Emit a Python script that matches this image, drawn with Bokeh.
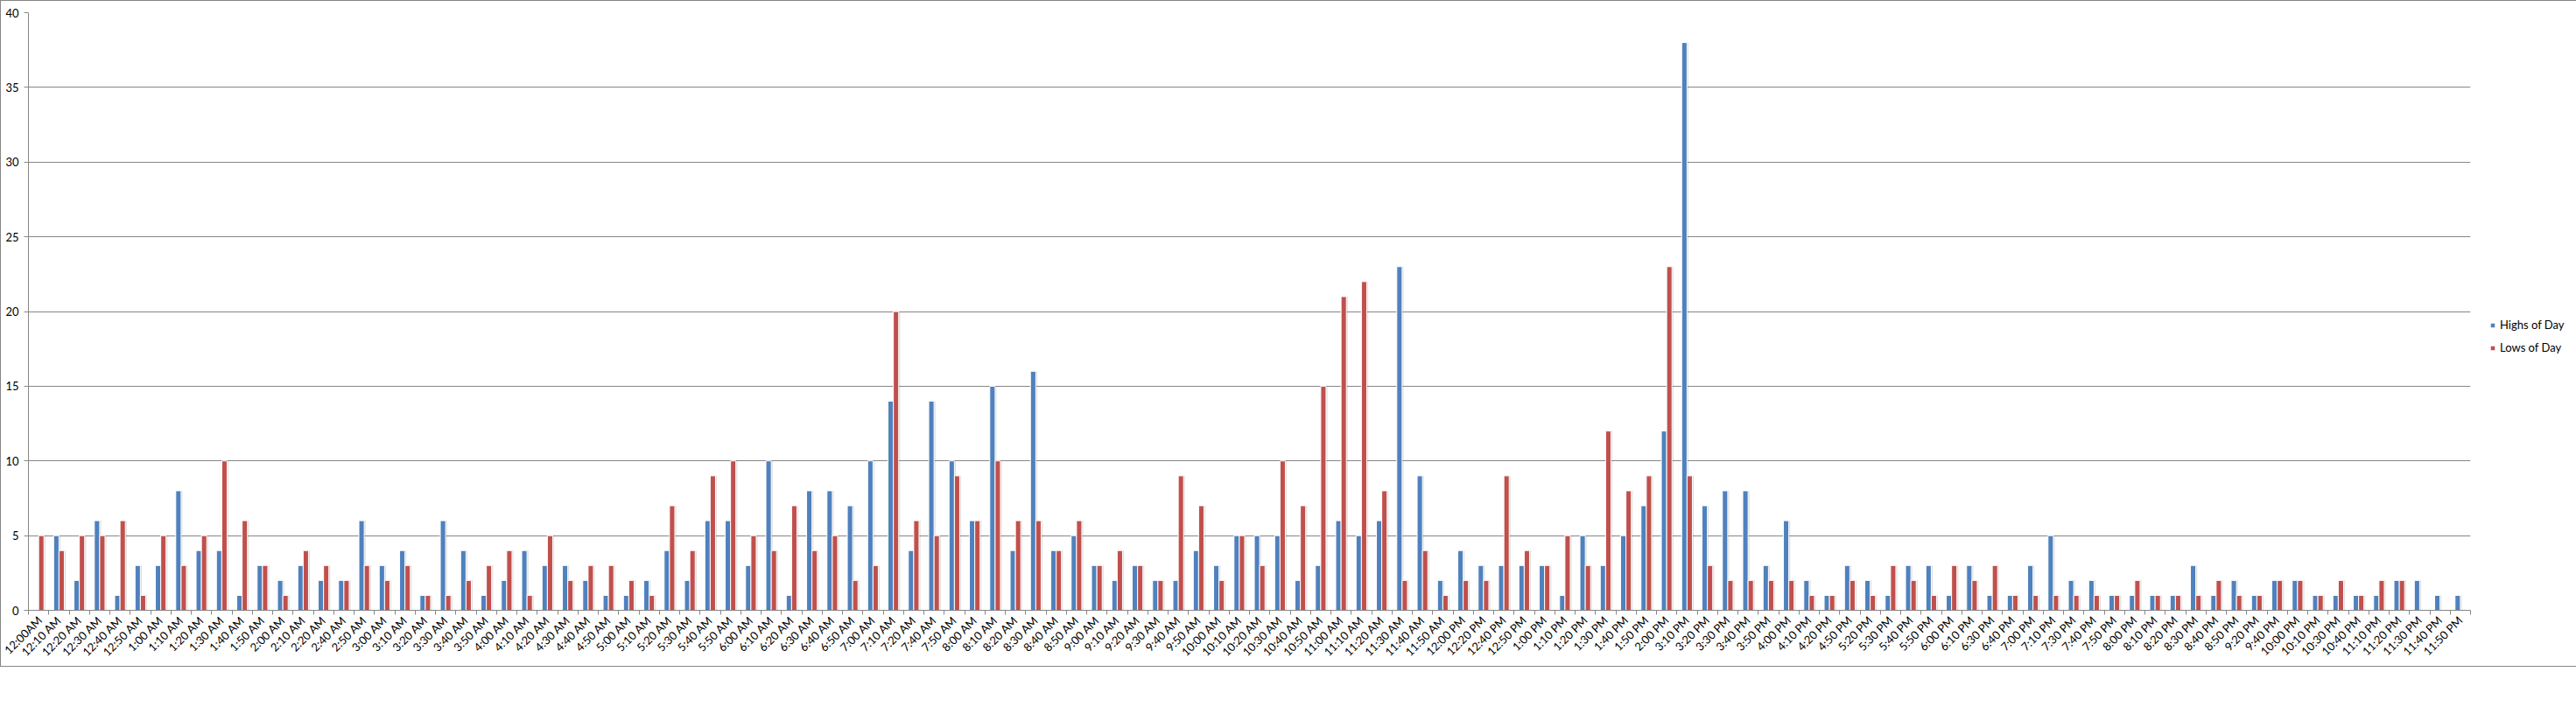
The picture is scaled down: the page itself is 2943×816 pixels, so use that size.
from bokeh.plotting import figure
from bokeh.models import ColumnDataSource, Range1d, FixedTicker, Legend, LegendItem
from bokeh.transform import dodge
from bokeh.embed import file_html
from bokeh.resources import INLINE
import math

labels = ["12:00AM", "12:10 AM", "12:20 AM", "12:30 AM", "12:40 AM", "12:50 AM", "1:00 AM", "1:10 AM",
          "1:20 AM", "1:30 AM", "1:40 AM", "1:50 AM", "2:00 AM", "2:10 AM", "2:20 AM", "2:40 AM",
          "2:50 AM", "3:00 AM", "3:10 AM", "3:20 AM", "3:30 AM", "3:40 AM", "3:50 AM", "4:00 AM",
          "4:10 AM", "4:20 AM", "4:30 AM", "4:40 AM", "4:50 AM", "5:00 AM", "5:10 AM", "5:20 AM",
          "5:30 AM", "5:40 AM", "5:50 AM", "6:00 AM", "6:10 AM", "6:20 AM", "6:30 AM", "6:40 AM",
          "6:50 AM", "7:00 AM", "7:10 AM", "7:20 AM", "7:40 AM", "7:50 AM", "8:00 AM", "8:10 AM",
          "8:20 AM", "8:30 AM", "8:40 AM", "8:50 AM", "9:00 AM", "9:10 AM", "9:20 AM", "9:30 AM",
          "9:40 AM", "9:50 AM", "10:00 AM", "10:10 AM", "10:20 AM", "10:30 AM", "10:40 AM", "10:50 AM",
          "11:00 AM", "11:10 AM", "11:20 AM", "11:30 AM", "11:40 AM", "11:50 AM", "12:00 PM", "12:20 PM",
          "12:40 PM", "12:50 PM", "1:00 PM", "1:10 PM", "1:20 PM", "1:30 PM", "1:40 PM", "1:50 PM",
          "2:00 PM", "3:10 PM", "3:20 PM", "3:30 PM", "3:40 PM", "3:50 PM", "4:00 PM", "4:10 PM",
          "4:20 PM", "4:50 PM", "5:20 PM", "5:30 PM", "5:40 PM", "5:50 PM", "6:00 PM", "6:10 PM",
          "6:30 PM", "6:40 PM", "7:00 PM", "7:10 PM", "7:30 PM", "7:40 PM", "7:50 PM", "8:00 PM",
          "8:10 PM", "8:20 PM", "8:30 PM", "8:40 PM", "8:50 PM", "9:20 PM", "9:40 PM", "10:00 PM",
          "10:10 PM", "10:30 PM", "10:40 PM", "11:10 PM", "11:20 PM", "11:30 PM", "11:40 PM", "11:50 PM"]

highs = [0, 5, 2, 6, 1, 3, 3, 8, 4, 4, 1, 3, 2, 3, 2, 2,
         6, 3, 4, 1, 6, 4, 1, 2, 4, 3, 3, 2, 1, 1, 2, 4,
         2, 6, 6, 3, 10, 1, 8, 8, 7, 10, 14, 4, 14, 10, 6, 15,
         4, 16, 4, 5, 3, 2, 3, 2, 2, 4, 3, 5, 5, 5, 2, 3,
         6, 5, 6, 23, 9, 2, 4, 3, 3, 3, 3, 1, 5, 3, 5, 7,
         12, 38, 7, 8, 8, 3, 6, 2, 1, 3, 2, 1, 3, 3, 1, 3,
         1, 1, 3, 5, 2, 2, 1, 1, 1, 1, 3, 1, 2, 1, 2, 2,
         1, 1, 1, 1, 2, 2, 1, 1]

lows = [5, 4, 5, 5, 6, 1, 5, 3, 5, 10, 6, 3, 1, 4, 3, 2,
        3, 2, 3, 1, 1, 2, 3, 4, 1, 5, 2, 3, 3, 2, 1, 7,
        4, 9, 10, 5, 4, 7, 4, 5, 2, 3, 20, 6, 5, 9, 6, 10,
        6, 6, 4, 6, 3, 4, 3, 2, 9, 7, 2, 5, 3, 10, 7, 15,
        21, 22, 8, 2, 4, 1, 2, 2, 9, 4, 3, 5, 3, 12, 8, 9,
        23, 9, 3, 2, 2, 2, 2, 1, 1, 2, 1, 3, 2, 1, 3, 2,
        3, 1, 1, 1, 1, 1, 1, 2, 1, 1, 1, 2, 1, 1, 2, 2,
        1, 2, 1, 2, 2, 0, 0, 0]

y_ticks = [0, 5, 10, 15, 20, 25, 30, 35, 40]
series_names = ["Highs of Day", "Lows of Day"]

n = len(labels)
idx = list(range(n))
source = ColumnDataSource(dict(x=idx, highs=highs, lows=lows))

FONT = "Lato"
GRAY = "#868686"
BLUE = "#4F81BD"
RED = "#C0504D"

p = figure(frame_width=2790, frame_height=683,
           x_range=Range1d(-0.5, n - 0.5), y_range=Range1d(0, 40),
           output_backend="svg", toolbar_location=None,
           min_border_left=31, min_border_top=13, min_border_right=107, min_border_bottom=60)

p.outline_line_color = None
p.background_fill_color = "white"
p.border_fill_color = "white"
p.styles = {"border": "1px solid #868686"}

bw = 0.262
off = 0.131
sh = 0.07

for col, o in (("highs", -off), ("lows", off)):
    p.vbar(x=dodge("x", o + sh, range=p.x_range), top=col, width=bw, bottom=0,
           source=source, fill_color="#000000", fill_alpha=0.13, line_color=None)

rb = p.vbar(x=dodge("x", -off, range=p.x_range), top="highs", width=bw, bottom=0,
            source=source, fill_color=BLUE, line_color="white", line_width=1)
rr = p.vbar(x=dodge("x", off, range=p.x_range), top="lows", width=bw, bottom=0,
            source=source, fill_color=RED, line_color="white", line_width=1)

# x axis
xa = p.xaxis[0]
xa.ticker = FixedTicker(ticks=idx, minor_ticks=[i - 0.5 for i in range(n + 1)])
xa.major_label_overrides = {i: lab for i, lab in enumerate(labels)}
xa.major_label_orientation = math.pi / 4
xa.major_tick_line_color = None
xa.major_tick_out = 0
xa.major_tick_in = 0
xa.minor_tick_line_color = GRAY
xa.minor_tick_out = 5
xa.minor_tick_in = 0
xa.axis_line_color = GRAY
xa.major_label_standoff = 4
xa.major_label_text_font = FONT
xa.major_label_text_font_size = "13px"
xa.major_label_text_color = "#000000"

ya = p.yaxis[0]
ya.ticker = FixedTicker(ticks=y_ticks, minor_ticks=[])
ya.axis_line_color = GRAY
ya.major_tick_line_color = GRAY
ya.major_tick_out = 5
ya.major_tick_in = 0
ya.minor_tick_line_color = None
ya.major_label_standoff = 6
ya.major_label_text_font = FONT
ya.major_label_text_font_size = "13px"
ya.major_label_text_color = "#000000"

p.xgrid.grid_line_color = None
p.ygrid.ticker = FixedTicker(ticks=y_ticks)
p.ygrid.grid_line_color = GRAY
p.ygrid.grid_line_width = 1

legend = Legend(items=[LegendItem(label=series_names[0], renderers=[rb]),
                       LegendItem(label=series_names[1], renderers=[rr])],
                location=(22, 292), orientation="vertical",
                glyph_width=7, glyph_height=7, label_height=14, spacing=10,
                label_standoff=5, padding=0, margin=0,
                border_line_color=None, background_fill_alpha=0,
                label_text_font=FONT, label_text_font_size="13px", label_text_color="#000000")
p.add_layout(legend, "right")

open("out.html", "w").write(file_html(p, INLINE))
